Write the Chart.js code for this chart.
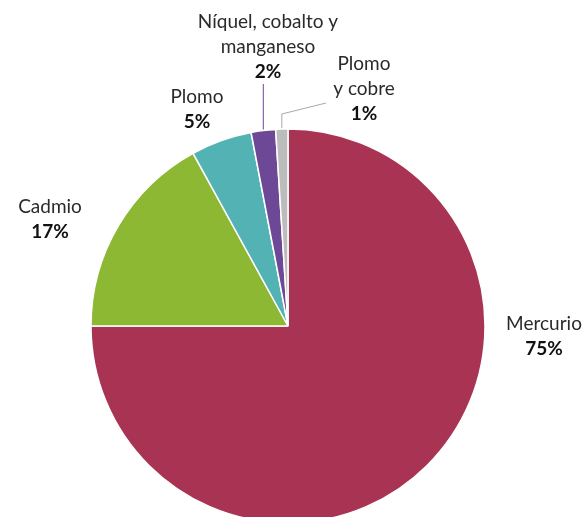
<!DOCTYPE html>
<html>
<head>
<meta charset="utf-8">
<script src="https://cdn.jsdelivr.net/npm/chart.js@4/dist/chart.umd.min.js"></script>
<style>
  html, body { margin: 0; padding: 0; background: #fff; overflow: hidden; }
  body { width: 587px; height: 517px; }
  #wrap { position: relative; width: 587px; height: 652px; }
</style>
</head>
<body>
<div id="wrap"><canvas id="pie"></canvas></div>
<script>
// Datos: participación por metal
const labels = ['Mercurio', 'Cadmio', 'Plomo', 'Níquel, cobalto y manganeso', 'Plomo y cobre'];
const values = [75, 17, 5, 2, 1];
const colors = ['#A93353', '#8CB833', '#52B2B4', '#6C4896', '#BCBCBC'];

// Texto de cada etiqueta, línea por línea
const labelLines = [
    ['Mercurio'],
    ['Cadmio'],
    ['Plomo'],
    ['Níquel, cobalto y', 'manganeso'],
    ['Plomo', 'y cobre']
];

// Ubicación de las etiquetas (centro del texto y primera línea)
const labelPos = [
    { x: 544, y: 324 },
    { x: 50, y: 207 },
    { x: 197, y: 97 },
    { x: 268, y: 22 },
    { x: 364, y: 64 }
];

const LINE_H = 25;
const FONT_FAMILY = 'Lato, "Noto Sans", sans-serif';

const pieLabels = {
    id: 'pieLabels',
    afterDatasetsDraw(chart) {
        const { ctx } = chart;
        const arcs = chart.getDatasetMeta(0).data;
        ctx.save();
        ctx.textAlign = 'center';
        ctx.textBaseline = 'middle';

        arcs.forEach((arc, i) => {
            const p = labelPos[i];
            const lines = labelLines[i];
            ctx.fillStyle = '#2a2a2a';
            ctx.font = '19px ' + FONT_FAMILY;
            lines.forEach((t, k) => ctx.fillText(t, p.x, p.y + k * LINE_H));
            ctx.font = 'bold 19px ' + FONT_FAMILY;
            ctx.fillStyle = '#111';
            ctx.fillText(values[i] + '%', p.x, p.y + lines.length * LINE_H);
        });

        // líneas guía para los sectores pequeños
        const edgePoint = (arc) => {
            const mid = (arc.startAngle + arc.endAngle) / 2;
            return { x: arc.x + Math.cos(mid) * arc.outerRadius, y: arc.y + Math.sin(mid) * arc.outerRadius };
        };
        ctx.lineWidth = 1;

        const a3 = edgePoint(arcs[3]);
        ctx.strokeStyle = colors[3];
        ctx.beginPath();
        ctx.moveTo(a3.x, a3.y - 1);
        ctx.lineTo(a3.x, 84);
        ctx.stroke();

        const a4 = edgePoint(arcs[4]);
        ctx.strokeStyle = '#A8A8A8';
        ctx.beginPath();
        ctx.moveTo(a4.x, a4.y - 1);
        ctx.lineTo(a4.x, 114);
        ctx.lineTo(326, 103);
        ctx.stroke();

        ctx.restore();
    }
};

new Chart(document.getElementById('pie'), {
    type: 'pie',
    data: {
        labels: labels,
        datasets: [{
            data: values,
            backgroundColor: colors,
            borderColor: '#fff',
            borderWidth: 1.5
        }]
    },
    options: {
        responsive: true,
        maintainAspectRatio: false,
        animation: false,
        radius: 197,
        layout: { padding: { right: 11 } },
        plugins: {
            legend: { display: false },
            tooltip: { enabled: false }
        }
    },
    plugins: [pieLabels]
});
</script>
</body>
</html>
